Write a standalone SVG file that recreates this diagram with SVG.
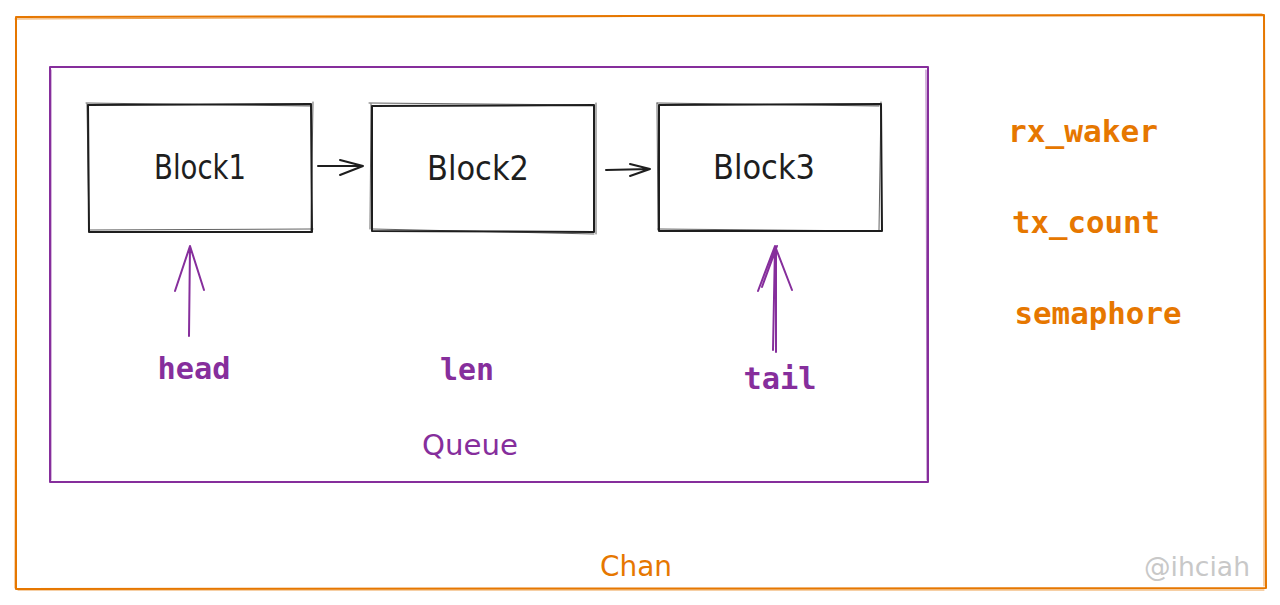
<svg xmlns="http://www.w3.org/2000/svg" width="1280" height="605" viewBox="0 0 1280 605">
<style>
.o{fill:none;stroke:#e67700;stroke-width:2;stroke-linecap:round;stroke-linejoin:round}
.p{fill:none;stroke:#862e9c;stroke-width:2;stroke-linecap:round;stroke-linejoin:round}
.k{fill:none;stroke:#1e1e1e;stroke-width:2;stroke-linecap:round;stroke-linejoin:round}
.thin{stroke-width:1;opacity:0.7}
.hand{font-family:"DejaVu Sans","Liberation Sans",sans-serif;}
.blk{font-size:33px;fill:#1e1e1e;text-anchor:middle}
.mono{font-family:"DejaVu Sans Mono","Liberation Mono",monospace;font-weight:bold;font-size:31px;text-anchor:middle}
.pt{fill:#862e9c}
.ot{fill:#e67700}
</style>
<rect width="1280" height="605" fill="#ffffff"/>
<g id="chan">
<path class="o" d="M16 17 L1264 15 L1266 588 L16 589 Z"/>
<path class="o thin" d="M15 19 L1262 14 M1264 18 L1264 586 M1264 590 L18 590 M15 588 L16 20"/>
<text class="hand ot" x="636" y="576" font-size="28" text-anchor="middle" textLength="72" lengthAdjust="spacingAndGlyphs">Chan</text>
</g>
<g id="queue">
<path class="p" d="M50 67 L928 67 L928 482 L50 482 Z"/>
<path class="p thin" d="M51 70 L51 480 M926 70 L927 480"/>
<text class="hand pt" x="470" y="455" font-size="29" text-anchor="middle" textLength="96" lengthAdjust="spacingAndGlyphs">Queue</text>
</g>
<g id="block1">
<path class="k" d="M88 105 L311 104 L312 232 L89 232 Z"/>
<path class="k thin" d="M86 103 L310 106 M313 102 L311 231 M90 230 L313 229 M87 104 L89 230"/>
<text class="hand blk" x="200" y="179" textLength="92" lengthAdjust="spacingAndGlyphs">Block1</text>
</g>
<g id="block2">
<path class="k" d="M372 106 L594 105 L594 232 L372 231 Z"/>
<path class="k thin" d="M369 103 L592 105 M596 103 L596 234 M373 229 L594 234 M371 104 L370 229"/>
<text class="hand blk" x="478" y="180" textLength="102" lengthAdjust="spacingAndGlyphs">Block2</text>
</g>
<g id="block3">
<path class="k" d="M659 105 L881 104 L882 231 L659 231 Z"/>
<path class="k thin" d="M657 103 L879 106 M881 102 L879 230 M658 229 L880 231 M657 103 L658 230"/>
<text class="hand blk" x="764" y="179" textLength="102" lengthAdjust="spacingAndGlyphs">Block3</text>
</g>
<g id="fields">
<text class="mono pt" x="194" y="379" textLength="73" lengthAdjust="spacingAndGlyphs">head</text>
<text class="mono pt" x="467" y="380" textLength="54" lengthAdjust="spacingAndGlyphs">len</text>
<text class="mono pt" x="780" y="389" textLength="73" lengthAdjust="spacingAndGlyphs">tail</text>
<text class="mono ot" x="1083" y="142" textLength="150" lengthAdjust="spacingAndGlyphs">rx_waker</text>
<text class="mono ot" x="1086" y="233" textLength="148" lengthAdjust="spacingAndGlyphs">tx_count</text>
<text class="mono ot" x="1098" y="324" textLength="167" lengthAdjust="spacingAndGlyphs">semaphore</text>
<text class="hand" x="1197" y="576" font-size="26" fill="#c8c8c8" text-anchor="middle" textLength="106" lengthAdjust="spacingAndGlyphs">@ihciah</text>
</g>
<g id="connectors">
<path class="k" d="M318 166 L363 166 M340 160 L363 166 L340 175"/>
<path class="k" d="M606 170 L650 169 M630 164 L650 169 L630 176"/>
<path class="p" d="M189 336 L190 246 M175 291 L190 246 L204 290"/>
<path class="p" d="M773 350 L775 246 M776 352 L776 248 M758 291 L775 246 L792 290 M762 287 L777 246"/>
</g>
</svg>
